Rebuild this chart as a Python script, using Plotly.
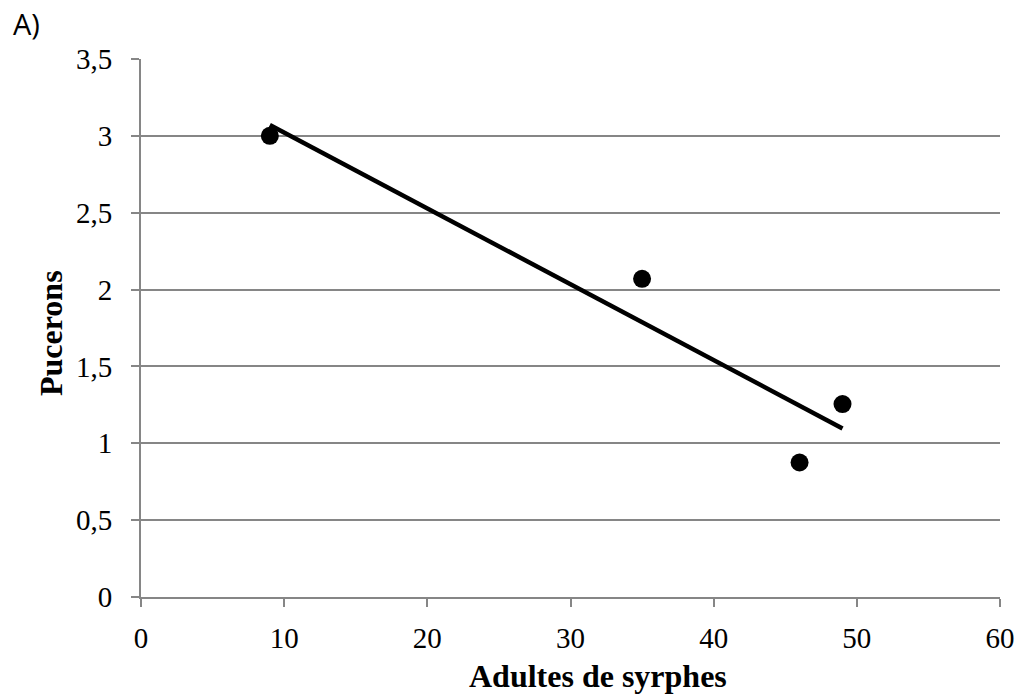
import numpy as np
import plotly.graph_objects as go

adultes_syrphes = [9, 35, 46, 49]
pucerons = [3.0, 2.07, 0.875, 1.255]

# linear trend line (least squares), drawn over the data range
slope, intercept = np.polyfit(adultes_syrphes, pucerons, 1)
trend_x = [min(adultes_syrphes), max(adultes_syrphes)]
trend_y = [slope * x + intercept for x in trend_x]

fig = go.Figure()
fig.add_trace(go.Scatter(x=trend_x, y=trend_y, mode="lines",
                         line=dict(color="black", width=4.5), hoverinfo="skip"))
fig.add_trace(go.Scatter(x=adultes_syrphes, y=pucerons, mode="markers",
                         marker=dict(color="black", size=18)))

serif = "Liberation Serif, Times New Roman, serif"
tick_font = dict(family=serif, size=29, color="black")
title_font = dict(family=serif, size=32, color="black")
fig.update_layout(
    width=1021, height=700,
    margin=dict(l=141, r=21, t=59, b=103),
    plot_bgcolor="white", paper_bgcolor="white",
    separators=", ",
    showlegend=False,
    xaxis=dict(range=[0, 60], dtick=10, tick0=0, showgrid=False, zeroline=False,
               showline=True, linecolor="#868686", linewidth=2,
               ticks="outside", ticklen=8, tickcolor="#868686", tickwidth=2,
               tickfont=tick_font, ticklabelstandoff=6, automargin=False),
    yaxis=dict(range=[0, 3.5], dtick=0.5, tick0=0, showgrid=True, gridcolor="#868686",
               gridwidth=1.5, zeroline=False,
               showline=True, linecolor="#868686", linewidth=2,
               ticks="outside", ticklen=8, tickcolor="#868686", tickwidth=2,
               tickfont=tick_font, ticklabelstandoff=13, automargin=False),
    annotations=[
        dict(text="A)", x=0, y=1, xref="paper", yref="paper",
             xanchor="left", yanchor="top", xshift=-130, yshift=57,
             showarrow=False,
             font=dict(family="Open Sans, Liberation Sans, sans-serif", size=29, color="black")),
        dict(text="<b>Pucerons</b>", x=0, y=0.5, xref="paper", yref="paper",
             xanchor="center", yanchor="middle", xshift=-90, yshift=-5, textangle=-90,
             showarrow=False, font=title_font),
        dict(text="<b>Adultes de syrphes</b>", x=0.5, y=0, xref="paper", yref="paper",
             xanchor="center", yanchor="middle", xshift=27, yshift=-79,
             showarrow=False, font=title_font),
    ],
)

fig.write_html("out.html")
